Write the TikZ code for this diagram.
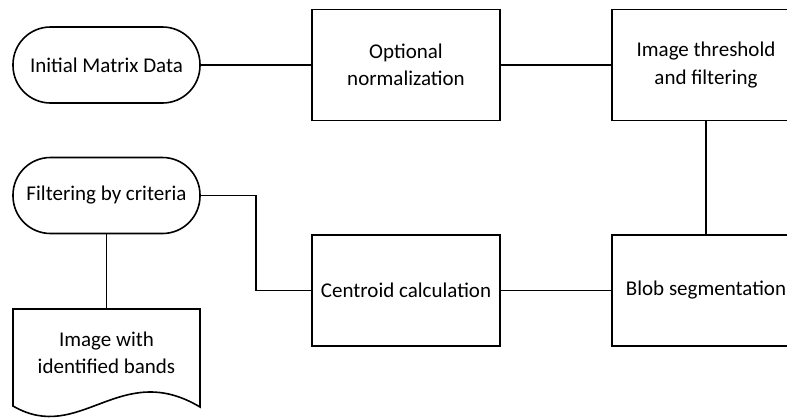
\documentclass[tikz,border=0pt]{standalone}
\usepackage{fontspec}
\setmainfont{Carlito}
\usetikzlibrary{calc}
\tikzset{
	flowline/.style={line width=1.6pt},
	stepbox/.style={draw, flowline, minimum width=188pt, minimum height=111pt, align=center, inner sep=0pt},
	termbox/.style={draw, flowline, minimum width=187pt, minimum height=76pt, rounded corners=37.5pt, inner sep=0pt},
	doctext/.style={align=center, inner sep=0pt}
}
\begin{document}
\begin{tikzpicture}[x=1pt, y=-1pt, font=\fontsize{21}{27.5}\selectfont]
	\useasboundingbox (0,0) rectangle (787,418);
	 		\node[termbox] (init) at(106.5, 65){Initial Matrix Data};
	 		\node[stepbox] (norm) at(406, 65){Optional\\normalization};
	 		\node[stepbox] (thresh) at(706, 65){Image threshold\\and filtering};
	 		\node[stepbox] (blob) at(706, 290.5){Blob segmentation};
	 		\node[stepbox] (cent) at(406, 290.5){Centroid calculation};
	 		\node[termbox] (filt) at(106.5, 195.5){Filtering by criteria};
	 		\node[doctext] (doc) at(106.5, 353){Image with\\identified bands};
	 		\coordinate (doctop) at(106.5, 309);

	 		% document outline with wavy bottom
	 		\draw[flowline] ([shift={(-93.5,-44)}]doc.center) to ([shift={(93.5,-44)}]doc.center)
	 			to ([shift={(93.5,54)}]doc.center)
	 			.. controls ([shift={(13.5,6)}]doc.center) and ([shift={(-26.5,92)}]doc.center) ..
	 			([shift={(-93.5,53)}]doc.center) -- cycle;

	 		\draw[flowline](init) to (norm);
	 		\draw[flowline](norm) to (thresh);
	 		\draw[flowline](thresh) to (blob);
	 		\draw[flowline](blob) to (cent);
	 		\draw[flowline](cent.west) -- ++(-55,0) |- (filt.east);
	 		\draw[flowline](filt) to (doctop);
	 	\end{tikzpicture}
\end{document}
